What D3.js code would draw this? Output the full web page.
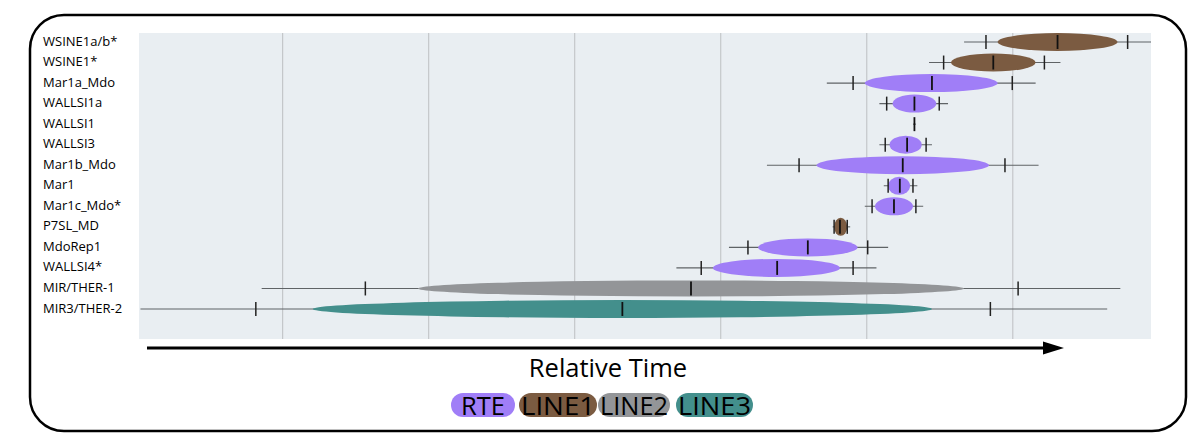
<!DOCTYPE html>
<html>
<head>
<meta charset="utf-8">
<script src="https://cdn.jsdelivr.net/npm/d3@7"></script>
<style>
  html, body { margin: 0; padding: 0; background: #fff; }
  svg { display: block; }
  text { font-family: "Open Sans", "Noto Sans", sans-serif; }
</style>
</head>
<body>
<svg id="chart" width="1200" height="447"></svg>
<script>
// ---------- DATA ----------
const categories = ["WSINE1a/b*", "WSINE1*", "Mar1a_Mdo", "WALLSI1a", "WALLSI1", "WALLSI3",
  "Mar1b_Mdo", "Mar1", "Mar1c_Mdo*", "P7SL_MD", "MdoRep1", "WALLSI4*", "MIR/THER-1", "MIR3/THER-2"];
const elementType = ["LINE1", "LINE1", "RTE", "RTE", "RTE", "RTE",
  "RTE", "RTE", "RTE", "LINE1", "RTE", "RTE", "LINE2", "LINE3"];
// relative time estimates (arbitrary units, gridlines at whole units)
const whiskerLow  = [5.67, 5.43, 4.73, 5.09, 5.32, 5.09, 4.32, 5.12, 4.99, 4.77, 4.06, 3.70, 0.86, 0.03];
const tickLow     = [5.82, 5.53, 4.91, 5.14, 5.33, 5.13, 4.54, 5.15, 5.04, 4.78, 4.19, 3.87, 1.57, 0.82];
const rangeLow    = [5.90, 5.58, 4.99, 5.18, 5.33, 5.16, 4.66, 5.15, 5.06, 4.78, 4.26, 3.95, 1.93, 1.21];
const estimate    = [6.31, 5.87, 5.45, 5.33, 5.33, 5.28, 5.25, 5.23, 5.19, 4.82, 4.60, 4.39, 3.80, 3.33];
const rangeHigh   = [6.72, 6.16, 5.90, 5.48, 5.33, 5.38, 5.84, 5.30, 5.32, 4.87, 4.94, 4.82, 5.67, 5.45];
const tickHigh    = [6.79, 6.22, 6.00, 5.50, 5.33, 5.41, 5.95, 5.32, 5.34, 4.87, 5.01, 4.91, 6.04, 5.85];
const whiskerHigh = [6.95, 6.33, 6.16, 5.56, 5.34, 5.45, 6.18, 5.35, 5.39, 4.89, 5.15, 5.07, 6.74, 6.65];
const gridTicks = [1, 2, 3, 4, 5, 6];
const xDomain = [0.02, 6.95];
const legendLabels = ["RTE", "LINE1", "LINE2", "LINE3"];
const axisTitle = "Relative Time";

// ---------- STYLE ----------
const colors = { RTE: "#a07ef7", LINE1: "#7b5b41", LINE2: "#939598", LINE3: "#438f8c" };
const color = d3.scaleOrdinal().domain(legendLabels).range(legendLabels.map(k => colors[k]));

const svg = d3.select("#chart");

// frame
svg.append("rect")
  .attr("x", 30).attr("y", 15).attr("width", 1156).attr("height", 416)
  .attr("rx", 34).attr("ry", 34)
  .attr("fill", "none").attr("stroke", "#000").attr("stroke-width", 2.5);

const plotTop = 33, plotBottom = 339;
const x = d3.scaleLinear().domain(xDomain).range([139, 1151]);
const y = d3.scalePoint().domain(categories).range([42, 309]);

// plot background
svg.append("rect")
  .attr("x", x(xDomain[0])).attr("y", plotTop)
  .attr("width", x(xDomain[1]) - x(xDomain[0])).attr("height", plotBottom - plotTop)
  .attr("fill", "#e9eef2");

// gridlines via axis
const grid = svg.append("g")
  .attr("transform", `translate(0,${plotBottom})`)
  .call(d3.axisBottom(x).tickValues(gridTicks).tickSize(-(plotBottom - plotTop)).tickFormat(""));
grid.select(".domain").remove();
grid.selectAll(".tick line").attr("stroke", "#c4c7ca").attr("stroke-width", 1.2);

// rows
const rows = categories.map((c, i) => ({
  name: c, type: elementType[i],
  wl: whiskerLow[i], tl: tickLow[i], rl: rangeLow[i], est: estimate[i],
  rh: rangeHigh[i], th: tickHigh[i], wh: whiskerHigh[i]
}));

const g = svg.append("g");
const row = g.selectAll("g.row").data(rows).join("g").attr("class", "row")
  .attr("transform", d => `translate(0,${y(d.name)})`);

row.append("line")
  .attr("x1", d => x(d.wl)).attr("x2", d => x(d.wh))
  .attr("stroke", "#5f6366").attr("stroke-width", 1.1);

row.filter(d => d.rh > d.rl).append("ellipse")
  .attr("cx", d => (x(d.rl) + x(d.rh)) / 2)
  .attr("rx", d => (x(d.rh) - x(d.rl)) / 2)
  .attr("ry", d => d.type === "LINE2" ? 8 : 9)
  .attr("fill", d => color(d.type));

const tickH = 7;
row.filter(d => d.th > d.tl).selectAll("line.wt").data(d => [d.tl, d.th]).join("line")
  .attr("class", "wt")
  .attr("x1", v => x(v)).attr("x2", v => x(v))
  .attr("y1", -tickH).attr("y2", tickH)
  .attr("stroke", "#222").attr("stroke-width", 1.5);

row.append("line")
  .attr("x1", d => x(d.est)).attr("x2", d => x(d.est))
  .attr("y1", -tickH).attr("y2", tickH)
  .attr("stroke", "#111").attr("stroke-width", 1.8);

// row labels
svg.append("g").selectAll("text").data(categories).join("text")
  .attr("x", 43).attr("y", d => y(d) + 3.5)
  .attr("font-size", 13).attr("fill", "#000")
  .text(d => d);

// arrow
const arrowY = 348;
svg.append("line")
  .attr("x1", 147).attr("x2", 1045).attr("y1", arrowY).attr("y2", arrowY)
  .attr("stroke", "#000").attr("stroke-width", 3);
svg.append("path")
  .attr("d", `M1043,${arrowY - 6.5} L1064,${arrowY} L1043,${arrowY + 6.5} Z`)
  .attr("fill", "#000");
svg.append("text")
  .attr("x", 608).attr("y", 377).attr("text-anchor", "middle")
  .attr("font-size", 25.5).attr("fill", "#000")
  .text(axisTitle);

// legend pills
const pillX = [451, 519, 598, 676], pillW = [64, 78, 72, 77];
const leg = svg.append("g").selectAll("g").data(legendLabels).join("g")
  .attr("transform", (d, i) => `translate(${pillX[i]},393)`);
leg.append("rect")
  .attr("width", (d, i) => pillW[i]).attr("height", 24)
  .attr("rx", 12).attr("ry", 12)
  .attr("fill", d => color(d));
leg.append("text")
  .attr("x", (d, i) => pillW[i] / 2).attr("y", 21.5)
  .attr("text-anchor", "middle")
  .attr("font-size", 25).attr("fill", "#000")
  .attr("textLength", (d, i) => d === "RTE" ? 44 : pillW[i] - 4)
  .attr("lengthAdjust", "spacingAndGlyphs")
  .text(d => d);
</script>
</body>
</html>
